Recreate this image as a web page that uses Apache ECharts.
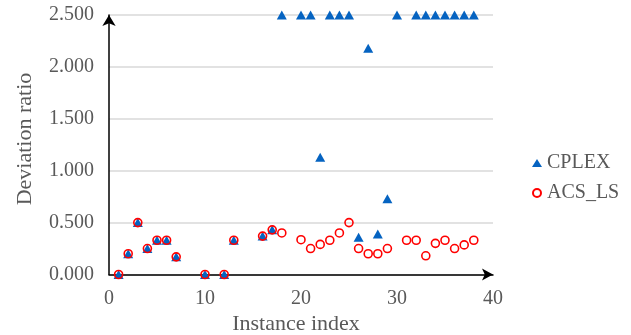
<!DOCTYPE html>
<html>
<head>
<meta charset="utf-8">
<script src="https://cdn.jsdelivr.net/npm/echarts@6/dist/echarts.min.js"></script>
<style>
html,body{margin:0;padding:0;background:#fff;}
#chart{width:631px;height:335px;}
</style>
</head>
<body>
<div id="chart"></div>
<script>
var cplexX = [1,2,3,4,5,6,7,10,12,13,16,17,18,20,21,22,23,24,25,26,27,28,29,30,32,33,34,35,36,37,38];
var cplexY = [0,0.2,0.5,0.25,0.33,0.33,0.17,0,0,0.33,0.37,0.43,2.5,2.5,2.5,1.13,2.5,2.5,2.5,0.36,2.18,0.39,0.73,2.5,2.5,2.5,2.5,2.5,2.5,2.5,2.5];
var acsX = [1,2,3,4,5,6,7,10,12,13,16,17,18,20,21,22,23,24,25,26,27,28,29,31,32,33,34,35,36,37,38];
var acsY = [0,0.2,0.5,0.25,0.33,0.33,0.17,0,0,0.33,0.37,0.43,0.40,0.335,0.25,0.29,0.33,0.40,0.50,0.25,0.20,0.20,0.25,0.33,0.33,0.18,0.30,0.33,0.25,0.285,0.33];
var seriesNames = ['CPLEX','ACS_LS'];
var xTitle = 'Instance index';
var yTitle = 'Deviation ratio';

function pairs(xs, ys){ return xs.map(function(x,i){ return [x, ys[i]]; }); }

var font = 'Liberation Serif, Times New Roman, serif';
var chart = echarts.init(document.getElementById('chart'), null, {renderer:'canvas'});
chart.setOption({
  animation:false,
  backgroundColor:'#ffffff',
  grid:{left:109, right:138, top:15, bottom:60.5, containLabel:false, outerBoundsMode:'none'},
  xAxis:{
    type:'value', min:0, max:40, interval:10,
    name:xTitle, nameLocation:'middle', nameGap:37,
    nameTextStyle:{fontFamily:font, fontSize:22, color:'#595959', padding:[0,10,0,0]},
    axisLine:{show:true, onZero:false, symbol:['none','arrow'], symbolSize:[9,11], lineStyle:{color:'#000', width:1.5}},
    axisTick:{show:false},
    axisLabel:{fontFamily:font, fontSize:20, color:'#595959', margin:14},
    splitLine:{show:false}
  },
  yAxis:{
    type:'value', min:0, max:2.5, interval:0.5,
    axisLine:{show:true, onZero:false, symbol:['none','arrow'], symbolSize:[10,11], lineStyle:{color:'#000', width:1.5}},
    axisTick:{show:false},
    axisLabel:{fontFamily:font, fontSize:20, color:'#595959', margin:15, formatter:function(v){return v.toFixed(3);}},
    splitLine:{show:true, lineStyle:{color:'#d9d9d9', width:1.5}}
  },
  graphic:[{
    type:'text', x:25, y:139, rotation:Math.PI/2,
    style:{text:yTitle, fontFamily:font, fontSize:22, fill:'#595959', align:'center', verticalAlign:'middle'}
  }],
  legend:{
    orient:'vertical', left:527, top:148, itemGap:10, itemWidth:10, itemHeight:8,
    textStyle:{fontFamily:font, fontSize:20, color:'#595959'},
    data:[{name:seriesNames[0], icon:'triangle'},{name:seriesNames[1], icon:'circle'}]
  },
  series:[
    {name:seriesNames[0], type:'scatter', symbol:'triangle', symbolSize:[10,9], z:2,
     itemStyle:{color:'#0563C1', opacity:1}, data:pairs(cplexX, cplexY)},
    {name:seriesNames[1], type:'scatter', symbol:'circle', symbolSize:8, z:3,
     itemStyle:{color:'rgba(255,255,255,0)', borderColor:'#FF0000', borderWidth:1.6, opacity:1}, data:pairs(acsX, acsY)}
  ]
});
</script>
</body>
</html>
